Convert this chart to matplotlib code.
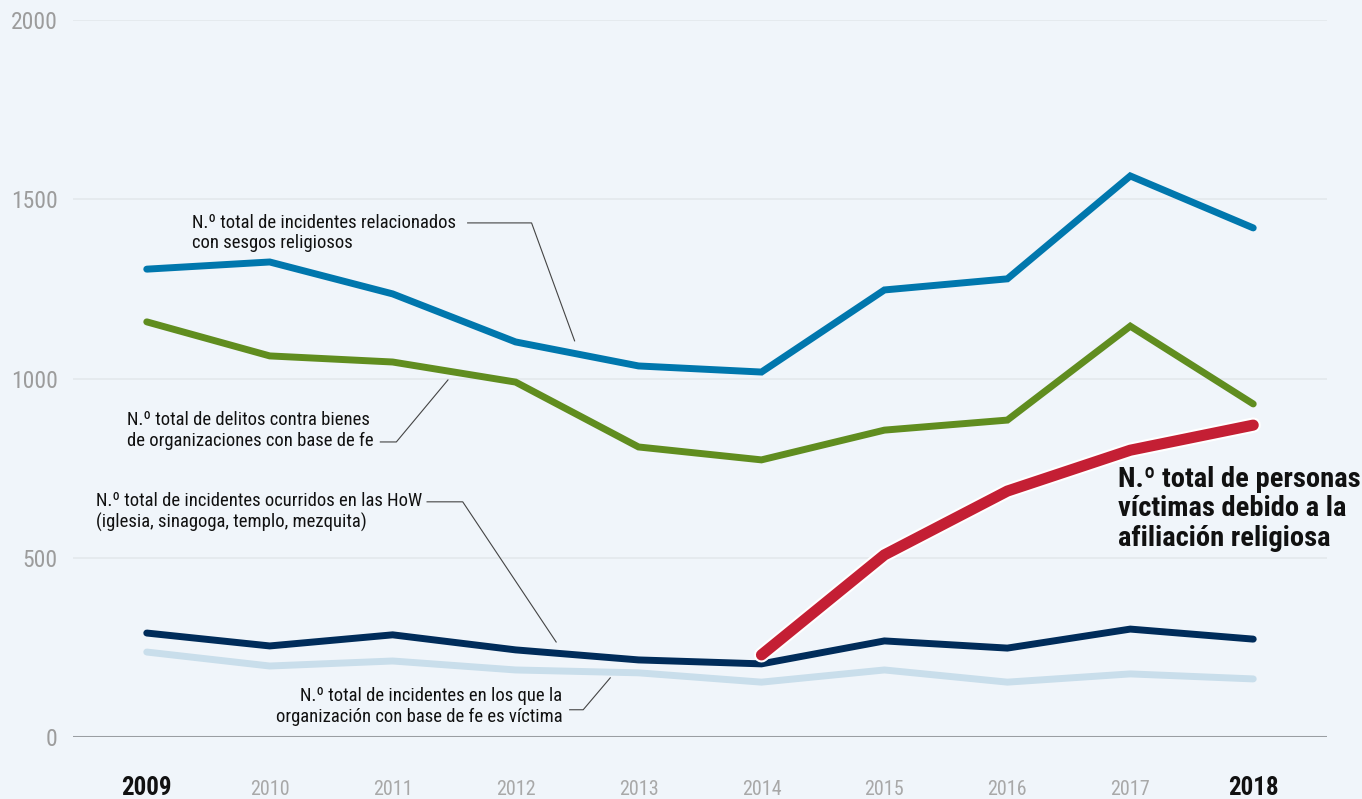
import matplotlib.pyplot as plt
import matplotlib.patheffects as pe

years = list(range(2009, 2019))
total_incidentes = [1305, 1325, 1236, 1102, 1035, 1018, 1247, 1278, 1565, 1420]
delitos_bienes = [1158, 1063, 1046, 990, 809, 773, 856, 884, 1146, 929]
incidentes_how = [290, 254, 285, 243, 215, 204, 268, 248, 301, 273]
org_victima = [237, 198, 212, 187, 179, 153, 187, 153, 176, 162]
personas_years = [2014, 2015, 2016, 2017, 2018]
personas_victimas = [229, 508, 686, 800, 870]

y_ticks = [0, 500, 1000, 1500, 2000]

BG = "#f0f5fa"
plt.rcParams["font.family"] = ["Roboto Condensed", "DejaVu Sans"]

fig = plt.figure(figsize=(13.62, 7.99), dpi=100, facecolor=BG)
ax = fig.add_axes([73 / 1362, 62 / 799, 1254 / 1362, 717 / 799], facecolor=BG)

ax.set_xlim(2008.40, 2018.60)
ax.set_ylim(0, 2000)
for s in ax.spines.values():
    s.set_visible(False)

for v in y_ticks[1:]:
    ax.axhline(v, color="#e3e8ec", lw=1.2, zorder=0)
ax.axhline(0, color="#9a9ea2", lw=2.2, zorder=0)

ax.set_yticks(y_ticks)
ax.set_yticklabels([str(v) for v in y_ticks], fontsize=17, color="#9c9c9c")
ax.tick_params(axis="y", length=0, pad=11)
ax.set_xticks(years)
ax.set_xticklabels([str(y) for y in years], va="baseline")
ax.tick_params(axis="x", length=0, pad=42)
for lbl, y in zip(ax.get_xticklabels(), years):
    if y in (2009, 2018):
        lbl.set_fontsize(18)
        lbl.set_fontweight("bold")
        lbl.set_color("#111111")
    else:
        lbl.set_fontsize(14.5)
        lbl.set_color("#a8a8a8")

kw = dict(solid_capstyle="round", solid_joinstyle="miter", clip_on=False)
ax.plot(years, org_victima, color="#c9deeb", lw=5, zorder=2, **kw)
ax.plot(years, incidentes_how, color="#002c5a", lw=5, zorder=3, **kw)
ax.plot(years, delitos_bienes, color="#608d1f", lw=5, zorder=3, **kw)
ax.plot(years, total_incidentes, color="#0077ad", lw=5, zorder=3, **kw)
ax.plot(personas_years, personas_victimas, color="#c41f34", lw=8, zorder=4,
        path_effects=[pe.Stroke(linewidth=11, foreground="white"), pe.Normal()], **kw)

# leader lines and their labels
lead = dict(color="#444444", lw=0.8, zorder=1, clip_on=False)
txt = dict(fontsize=13.4, color="#111111", linespacing=1.2, va="center")

ax.text(2009.37, 1406, "N.º total de incidentes relacionados\ncon sesgos religiosos", ha="left", **txt)
ax.plot([2011.61, 2012.13, 2012.48], [1434, 1434, 1105], **lead)

ax.text(2008.84, 854, "N.º total de delitos contra bienes\nde organizaciones con base de fe", ha="left", **txt)
ax.plot([2010.90, 2011.03, 2011.45], [823, 823, 996], **lead)

ax.text(2008.59, 628, "N.º total de incidentes ocurridos en las HoW\n(iglesia, sinagoga, templo, mezquita)", ha="left", **txt)
ax.plot([2011.28, 2011.57, 2012.33], [656, 656, 265], **lead)

ax.text(2012.38, 84, "N.º total de incidentes en los que la\norganización con base de fe es víctima", ha="right", **txt)
ax.plot([2012.44, 2012.55, 2012.77], [76, 76, 165], **lead)

ax.text(2016.90, 636, "N.º total de personas\nvíctimas debido a la\nafiliación religiosa",
        ha="left", va="center", fontsize=20.5, fontweight="bold", color="#111111", linespacing=1.1)

fig.savefig("out.png", dpi=100, facecolor=BG)
